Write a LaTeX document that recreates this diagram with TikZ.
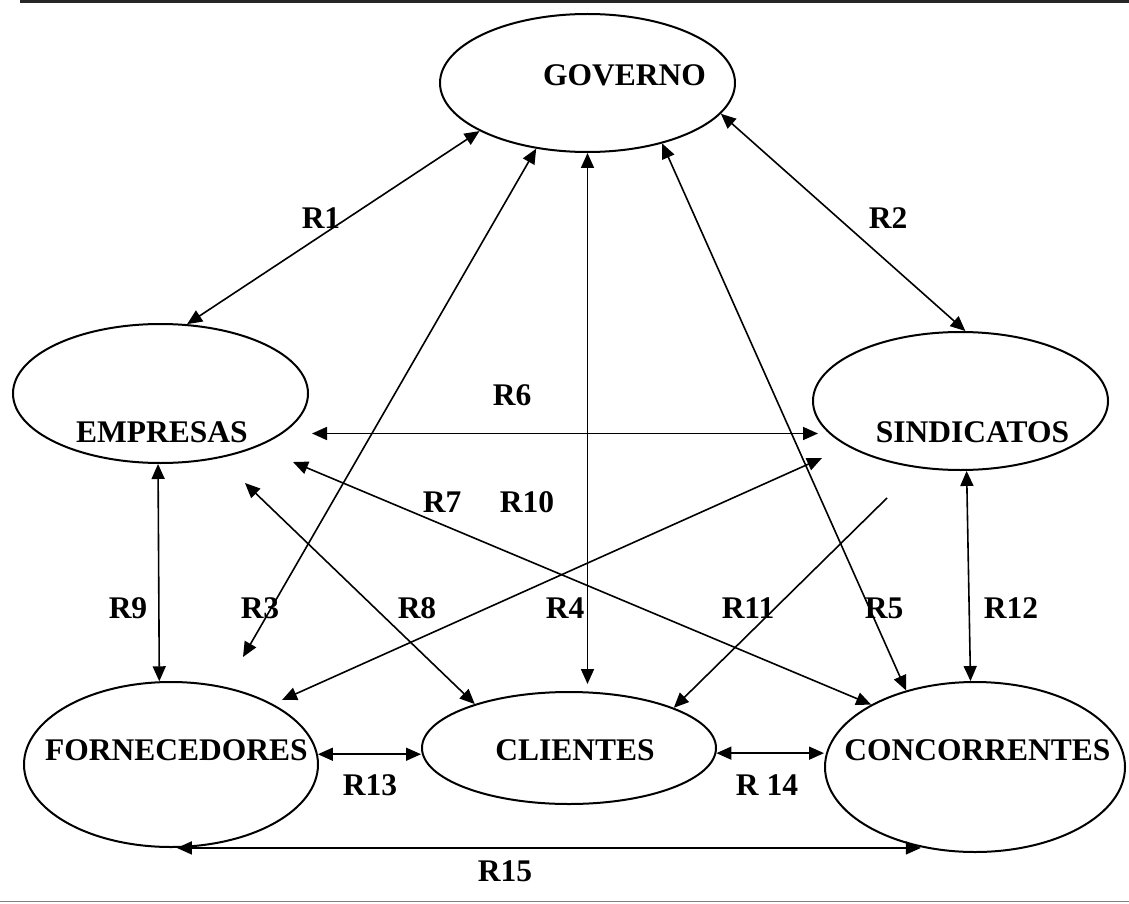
\documentclass[tikz,border=0pt]{standalone}
\usepackage{fontspec}
\setmainfont{Liberation Serif}
\usetikzlibrary{shapes.geometric,arrows.meta}
\begin{document}
\begin{tikzpicture}[x=1pt,y=-1pt,
  ent/.style={draw, line width=2pt, ellipse, inner sep=0pt},
  lbl/.style={font=\fontsize{31.5}{36}\selectfont\bfseries, inner sep=0pt, anchor=base},
  rel/.style={line width=1.6pt, {Triangle[length=15pt,width=13pt]}-{Triangle[length=15pt,width=13pt]}},
  one/.style={line width=1.6pt, -{Triangle[length=15pt,width=13pt]}}]
\useasboundingbox (0,0) rectangle (1129,904);
\fill[black!85] (20,0) rectangle (1129,3.5);
\draw[gray, line width=1.5pt] (0,901.5) -- (1129,901.5);

% entities
\node[ent, minimum width=295pt, minimum height=138pt] (gov) at (587.5,83) {};
\node[ent, minimum width=295pt, minimum height=139pt] (emp) at (160.5,393.5) {};
\node[ent, minimum width=295pt, minimum height=138pt] (sin) at (960.5,401) {};
\node[ent, minimum width=294pt, minimum height=165pt] (forn) at (171,764.5) {};
\node[ent, minimum width=294pt, minimum height=112pt] (cli) at (569,748) {};
\node[ent, minimum width=300pt, minimum height=170pt] (conc) at (975,767) {};

\node[lbl] (tgov) at (624.5,86) {GOVERNO};
\node[lbl] (temp) at (162,442) {EMPRESAS};
\node[lbl] (tsin) at (972.5,442) {SINDICATOS};
\node[lbl] (tforn) at (176.5,760) {FORNECEDORES};
\node[lbl] (tcli) at (575,760) {CLIENTES};
\node[lbl] (tconc) at (977.5,760) {CONCORRENTES};

% relation labels
\node[lbl] (r1) at (321,228) {R1};
\node[lbl] (r2) at (888,228) {R2};
\node[lbl] (r6) at (512,405) {R6};
\node[lbl] (r7) at (442,512) {R7};
\node[lbl] (r10) at (527,512) {R10};
\node[lbl] (r9) at (128,618) {R9};
\node[lbl] (r3) at (260,618) {R3};
\node[lbl] (r8) at (417,618) {R8};
\node[lbl] (r4) at (565,618) {R4};
\node[lbl] (r11) at (748,618) {R11};
\node[lbl] (r5) at (884,618) {R5};
\node[lbl] (r12) at (1011,618) {R12};
\node[lbl] (r13) at (370,795) {R13};
\node[lbl] (r14) at (767,795) {R 14};
\node[lbl] (r15) at (505,881) {R15};

% free ends
\coordinate (e6a) at (312,433.5);
\coordinate (s6b) at (818,433.5);
\coordinate (e7) at (293,462);
\coordinate (e8) at (245,483);
\coordinate (f3) at (243,657);
\coordinate (s10) at (822,458);
\coordinate (f10) at (282,700);
\coordinate (s11) at (887,498);

% connectors
\draw[rel] (gov.204) -- (emp.69);
\draw[rel] (gov.347) -- (sin.86);
\draw[rel] (gov.232) -- (f3);
\draw[rel, shorten >=7pt] (gov.south) -- (gov.south |- cli.north);
\draw[rel] (gov.321) -- (conc.132);
\draw[rel] (e6a) -- (s6b);
\draw[rel] (e7) -- (conc.149);
\draw[rel] (e8) -- (cli.155);
\draw[rel] (emp.268) -- (forn.98);
\draw[rel] (s10) -- (f10);
\draw[one] (s11) -- (cli.21);
\draw[rel] (sin.275) -- (conc.93);
\draw[rel] (forn.4) -- (forn.4 -| cli.west);
\draw[rel] (cli.358) -- (cli.358 -| conc.west);
\draw[rel] (forn.274) -- (forn.274 -| conc.236);
\end{tikzpicture}
\end{document}
